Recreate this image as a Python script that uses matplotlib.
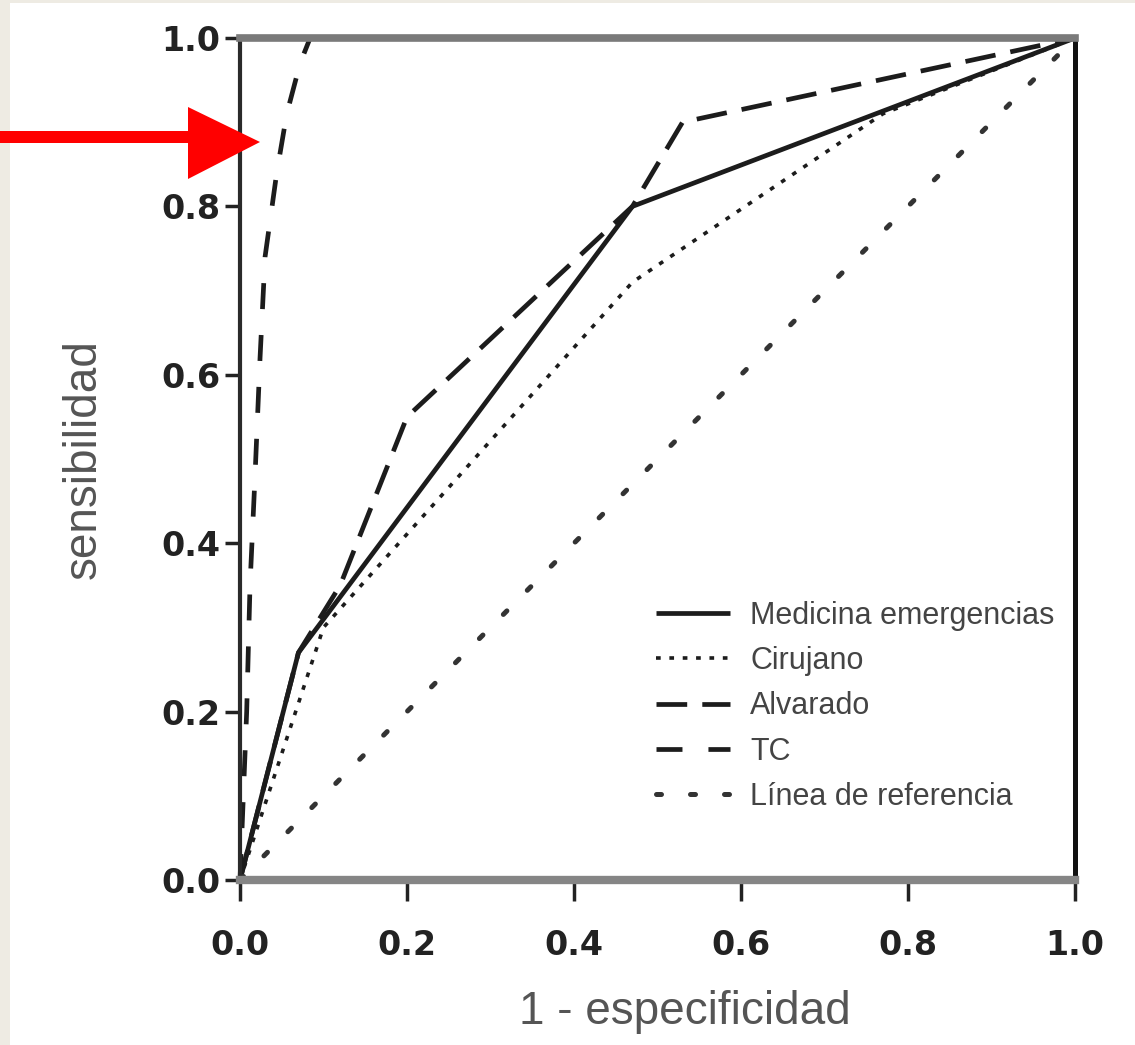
import matplotlib
matplotlib.use("Agg")
import matplotlib.pyplot as plt
from matplotlib.patches import Rectangle, Polygon

# ---- data ----
fpr_medicina = [0.0, 0.07, 0.47, 1.0]
sens_medicina = [0.0, 0.27, 0.80, 1.0]

fpr_cirujano = [0.0, 0.10, 0.47, 0.77, 1.0]
sens_cirujano = [0.0, 0.30, 0.71, 0.91, 1.0]

fpr_alvarado = [0.0, 0.07, 0.12, 0.20, 0.47, 0.53, 1.0]
sens_alvarado = [0.0, 0.27, 0.35, 0.55, 0.80, 0.90, 1.0]

fpr_tc = [0.0, 0.008, 0.012, 0.018, 0.024, 0.030, 0.044, 0.056, 0.072, 0.084, 1.0]
sens_tc = [0.0, 0.20, 0.35, 0.48, 0.62, 0.74, 0.84, 0.91, 0.97, 1.0, 1.0]

fpr_ref = [0.0, 1.0]
sens_ref = [0.0, 1.0]

labels = ["Medicina emergencias", "Cirujano", "Alvarado", "TC", "Línea de referencia"]
ticks = [0.0, 0.2, 0.4, 0.6, 0.8, 1.0]
tick_labels = ["0.0", "0.2", "0.4", "0.6", "0.8", "1.0"]
xlabel = "1 - especificidad"
ylabel = "sensibilidad"

W, H = 1135, 1045
fig = plt.figure(figsize=(W / 100, H / 100), dpi=100)
fig.patch.set_facecolor("#eeebe3")
fig.patches.append(Rectangle((10 / W, 0), 1, (H - 3) / H, transform=fig.transFigure,
                             facecolor="white", edgecolor="none", zorder=-10))

ax = fig.add_axes([240 / W, 1 - 880 / H, (1075 - 240) / W, (880 - 38) / H])
ax.set_facecolor("white")
ax.set_zorder(2)
ax.set_xlim(0, 1)
ax.set_ylim(0, 1)

c = "#1c1c1c"
l1, = ax.plot(fpr_medicina, sens_medicina, color=c, lw=3.4, solid_capstyle="butt",
              clip_on=False, label=labels[0])
l2, = ax.plot(fpr_cirujano, sens_cirujano, color=c, lw=2.6, linestyle=(0, (1.3, 2.4)),
              clip_on=False, label=labels[1])
l3, = ax.plot(fpr_alvarado, sens_alvarado, color=c, lw=3.4, linestyle=(0, (6.5, 3.2)),
              clip_on=False, label=labels[2])
l4, = ax.plot(fpr_tc, sens_tc, color=c, lw=3.4, linestyle=(0, (5.5, 5.5)),
              clip_on=False, label=labels[3])
l5, = ax.plot(fpr_ref, sens_ref, color="#333333", lw=3.6, linestyle=(0, (1.0, 5.8)),
              dash_capstyle="round", clip_on=False, label=labels[4])

for side, col, lw in [("left", "#2a2a2a", 3.0), ("right", "#111111", 3.6),
                      ("top", "#7a7a7a", 5.5), ("bottom", "#858585", 6.0)]:
    ax.spines[side].set_color(col)
    ax.spines[side].set_linewidth(lw)
    ax.spines[side].set_zorder(5)

ax.set_xticks(ticks)
ax.set_yticks(ticks)
ax.set_xticklabels(tick_labels)
ax.set_yticklabels(tick_labels)
ax.tick_params(axis="both", direction="out", width=2.5, color="#222222",
               labelsize=24, labelcolor="#222222")
ax.tick_params(axis="y", length=11, pad=3)
ax.tick_params(axis="x", length=15, pad=20)
for t in ax.get_xticklabels() + ax.get_yticklabels():
    t.set_fontweight("bold")

ax.set_xlabel(xlabel, fontsize=33, color="#555555", family="Liberation Sans")
ax.set_ylabel(ylabel, fontsize=33, color="#555555", family="Liberation Sans", labelpad=40)
ax.xaxis.set_label_coords((685 - 240) / 835, -(1012 - 880) / 842, transform=ax.transAxes)
ax.xaxis.label.set_verticalalignment("center")

leg = ax.legend(handles=[l1, l2, l3, l4, l5], loc="upper left",
                bbox_to_anchor=(0.483, 0.346), frameon=False, handlelength=2.45,
                handletextpad=0.65, labelspacing=0.5, borderaxespad=0,
                prop={"family": "Liberation Sans", "size": 22})
for t in leg.get_texts():
    t.set_color("#444444")

# red arrow (annotation overlay), pixel geometry converted to figure fraction
def fp(x, y):
    return (x / W, 1 - y / H)

arrow_ax = fig.add_axes([0, 0, 1, 1], facecolor="none")
arrow_ax.set_axis_off()
arrow_ax.set_zorder(10)
arrow_ax.add_patch(Polygon([fp(0, 131), fp(192, 131), fp(192, 143), fp(0, 143)],
                           closed=True, transform=fig.transFigure, facecolor="#ff0000",
                           edgecolor="none"))
arrow_ax.add_patch(Polygon([fp(188, 107), fp(260, 142), fp(188, 179)], closed=True,
                           transform=fig.transFigure, facecolor="#ff0000", edgecolor="none"))

fig.savefig("out.png", dpi=100, facecolor=fig.get_facecolor())
